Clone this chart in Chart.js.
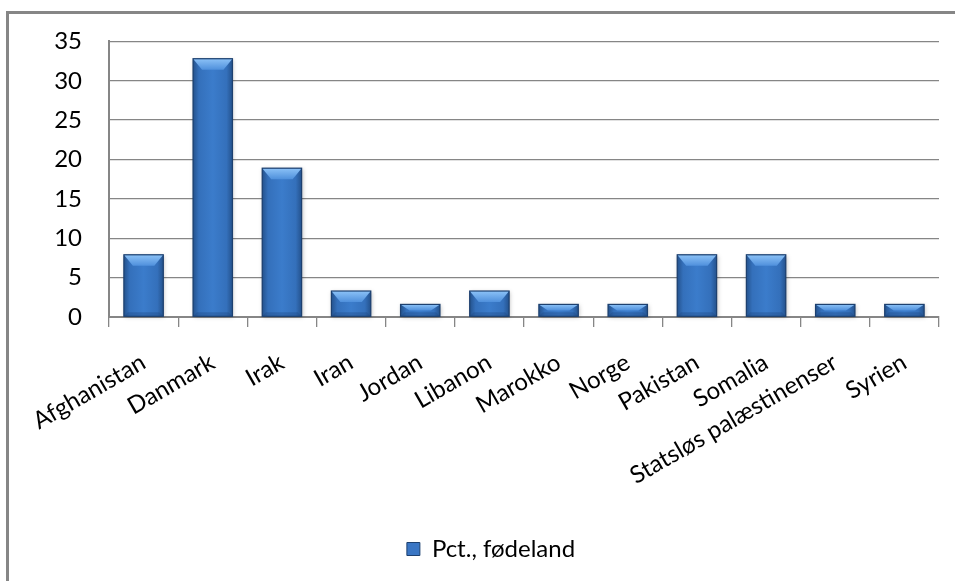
<!DOCTYPE html>
<html>
<head>
<meta charset="utf-8">
<script src="https://cdn.jsdelivr.net/npm/chart.js@4.4.9/dist/chart.umd.min.js"></script>
<style>
  html, body { margin: 0; padding: 0; background: #fff; overflow: hidden; }
  #frame { position: absolute; left: 6px; top: 11px; width: 1000px; height: 700px; border: 3px solid #868686; box-sizing: border-box; }
  #wrap { position: absolute; left: 0; top: 0; width: 955px; height: 581px; }
</style>
</head>
<body>
<div id="frame"></div>
<div id="wrap"><canvas id="myChart" width="955" height="581"></canvas></div>
<script>
const categories = ["Afghanistan", "Danmark", "Irak", "Iran", "Jordan", "Libanon", "Marokko", "Norge", "Pakistan", "Somalia", "Statsløs palæstinenser", "Syrien"];
const pctValues = [7.9, 32.8, 18.9, 3.3, 1.6, 3.3, 1.6, 1.6, 7.9, 7.9, 1.6, 1.6];
const seriesName = "Pct., fødeland";

const gray = "#868686";
const fontFamily = "Lato, 'Open Sans', sans-serif";

// paints the bevelled bar look over the library's own bar elements
const bevelBars = {
  id: "bevelBars",
  afterDatasetsDraw(chart) {
    const ctx = chart.ctx;
    chart.getDatasetMeta(0).data.forEach((bar) => {
      const { x, y, base, width } = bar.getProps(["x", "y", "base", "width"], true);
      const left = x - width / 2;
      const right = x + width / 2;
      const h = base - y;
      const cap = Math.min(11, h / 2);
      const inset = Math.min(9, width / 4);

      ctx.save();
      const g = ctx.createLinearGradient(left, 0, right, 0);
      g.addColorStop(0, "#24528d");
      g.addColorStop(0.15, "#3470bb");
      g.addColorStop(0.5, "#3b7ccb");
      g.addColorStop(0.85, "#3470bb");
      g.addColorStop(1, "#24528d");
      ctx.shadowColor = "rgba(0,0,0,0.25)";
      ctx.shadowBlur = 4;
      ctx.shadowOffsetX = 1;
      ctx.shadowOffsetY = 1;
      ctx.fillStyle = g;
      ctx.fillRect(left, y, width, h);
      ctx.restore();

      // top bevel
      ctx.save();
      const tg = ctx.createLinearGradient(0, y, 0, y + cap);
      tg.addColorStop(0, "#8cc2f7");
      tg.addColorStop(1, "#4f90dc");
      ctx.fillStyle = tg;
      ctx.beginPath();
      ctx.moveTo(left, y);
      ctx.lineTo(right, y);
      ctx.lineTo(right - inset, y + cap);
      ctx.lineTo(left + inset, y + cap);
      ctx.closePath();
      ctx.fill();

      // bottom bevel
      if (h > 8) {
        ctx.fillStyle = "rgba(30,70,125,0.35)";
        ctx.beginPath();
        ctx.moveTo(left, base);
        ctx.lineTo(right, base);
        ctx.lineTo(right - 4, base - 4);
        ctx.lineTo(left + 4, base - 4);
        ctx.closePath();
        ctx.fill();
      }

      ctx.strokeStyle = "#1d406f";
      ctx.lineWidth = 1.2;
      ctx.strokeRect(left, y, width, h);
      ctx.restore();
    });
  },
};

const myChart = new Chart(document.getElementById("myChart"), {
  type: "bar",
  data: {
    labels: categories,
    datasets: [
      {
        label: seriesName,
        data: pctValues,
        backgroundColor: "#3a76c4",
        borderColor: "#1d406f",
        borderWidth: 1,
        barPercentage: 0.57,
        categoryPercentage: 1.0,
      },
    ],
  },
  options: {
    responsive: false,
    animation: false,
    devicePixelRatio: 1,
    layout: {
      padding: { left: 27, right: 0, top: 41, bottom: 10 },
    },
    plugins: {
      tooltip: { enabled: false },
      legend: {
        position: "bottom",
        labels: {
          boxWidth: 13,
          boxHeight: 13,
          color: "#000",
          font: { family: fontFamily, size: 24 },
          generateLabels: () => [
            {
              text: seriesName,
              fillStyle: "#3a76c4",
              strokeStyle: "#1d406f",
              lineWidth: 1,
              fontColor: "#000",
            },
          ],
        },
      },
    },
    scales: {
      x: {
        offset: true,
        grid: {
          offset: true,
          drawOnChartArea: false,
          tickLength: 10,
          color: gray,
          lineWidth: 1.3,
        },
        border: { display: true, color: gray, width: 2 },
        ticks: {
          autoSkip: false,
          minRotation: 30,
          maxRotation: 30,
          padding: 21,
          color: "#000",
          font: { family: fontFamily, size: 24 },
        },
        afterFit(scale) {
          scale.height = 210;
        },
      },
      y: {
        min: 0,
        max: 35,
        ticks: {
          stepSize: 5,
          padding: 27,
          color: "#000",
          font: { family: fontFamily, size: 24 },
        },
        grid: {
          color: gray,
          lineWidth: 1.3,
          drawTicks: false,
        },
        border: { display: true, color: gray, width: 2 },
        afterFit(scale) {
          scale.width = 82;
        },
      },
      // empty right-hand spacer so the plot ends where the reference does
      spacer: {
        type: "linear",
        position: "right",
        ticks: { display: false },
        grid: { display: false, drawTicks: false },
        border: { display: false },
        afterFit(scale) {
          scale.width = 16;
        },
      },
    },
  },
  plugins: [bevelBars],
});
</script>
</body>
</html>
